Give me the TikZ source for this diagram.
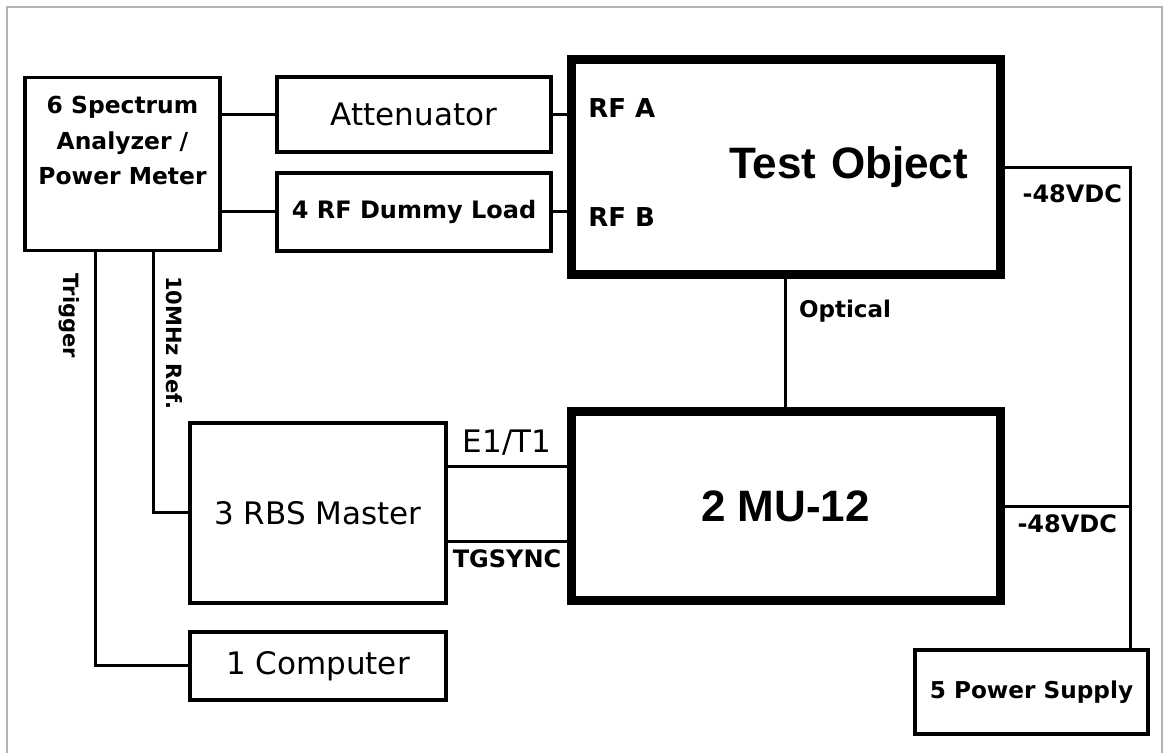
\documentclass[tikz,border=0pt]{standalone}
\usepackage{fontspec}
\setmainfont{DejaVu Sans}
\newfontfamily\arialfont{Liberation Sans}
\usetikzlibrary{positioning}

\begin{document}
\begin{tikzpicture}[
    x=0.5pt, y=-0.5pt,
    box/.style={rectangle, draw=black, line width=1.6pt, inner sep=0pt, font=\fontsize{15.5}{18}\selectfont},
    bigbox/.style={rectangle, draw=black, line width=4.5pt, inner sep=0pt, font=\arialfont\bfseries\fontsize{22}{26}\selectfont},
    lbl/.style={font=\bfseries\fontsize{12}{14}\selectfont, inner sep=0pt},
    vlbl/.style={font=\bfseries\fontsize{10.5}{12}\selectfont, inner sep=0pt, rotate=-90},
    link/.style={line width=1.5pt},
    frame/.style={draw=gray!60, line width=1.2pt}
]

\useasboundingbox (0,0) rectangle (1164,753);
\draw[frame] (7,760) |- (1162,7) -- (1162,760);

% Measurement units
\node[box, minimum width=97.5pt, minimum height=86.5pt] (sa) at (122.5,164) {};
\node[lbl, font=\bfseries\fontsize{11.7}{17.7}\selectfont, align=center, below=10pt of sa.north] (satext) {6 Spectrum\\Analyzer /\\Power Meter};
\node[box, minimum width=137pt, minimum height=37.5pt] (att) at (414,114.5) {Attenuator};
\node[box, font=\bfseries\fontsize{12}{14}\selectfont, minimum width=137pt, minimum height=39pt] (dummy) at (414,212) {4 RF Dummy Load};

% Test object and MU
\node[bigbox, minimum width=214.5pt, minimum height=107.5pt, text width=182.5pt, inner xsep=16pt, align=right] (to) at (785.5,167.5) {Test Object};
\node[bigbox, minimum width=214.5pt, minimum height=94.5pt] (mu) at (785.5,506.5) {2 MU-12};

% Other units
\node[box, minimum width=128pt, minimum height=90pt] (rbs) at (318,513) {3 RBS Master};
\node[box, minimum width=128pt, minimum height=34pt] (comp) at (318,666) {1 Computer};
\node[box, font=\bfseries\fontsize{11.6}{14}\selectfont, minimum width=116.5pt, minimum height=42pt] (ps) at (1031.5,692) {5 Power Supply};

% Port labels
\node[lbl, font=\bfseries\fontsize{13}{15}\selectfont, anchor=west] (rfa) at (588,108) {RF A};
\node[lbl, font=\bfseries\fontsize{13}{15}\selectfont, anchor=west] (rfb) at (588,217) {RF B};

% Power bus
\coordinate (bus) at (1130,0);

% Connections
\draw[link] (att.west -| sa.east) -- (att.west);
\draw[link] (dummy.west -| sa.east) -- (dummy.west);
\draw[link] (att.east) -- (att.east -| to.west);
\draw[link] (dummy.east) -- (dummy.east -| to.west);
\draw[link] (to.south) -- (mu.north) node[lbl, font=\bfseries\fontsize{11.5}{14}\selectfont, near start, right=6pt] {Optical};
\draw[link] (to.east) -| (bus |- ps.north) node[lbl, pos=0.27, below=8pt] {-48VDC};
\draw[link] (mu.east) -- (mu.east -| bus) node[lbl, midway, below=3.5pt] {-48VDC};
\draw[link] ([yshift=23pt]rbs.east) -- ([yshift=23pt]rbs.east -| mu.west) node[midway, above=5pt, inner sep=0pt, font=\fontsize{15.5}{18}\selectfont] {E1/T1};
\draw[link] ([yshift=-14.5pt]rbs.east) -- ([yshift=-14.5pt]rbs.east -| mu.west) node[lbl, midway, below=3pt] {TGSYNC};

% Reference and trigger lines
\draw[link] ([xshift=15.25pt]sa.south) |- (rbs.west);
\draw[link] ([xshift=-13.75pt]sa.south) |- (comp.west);
\node[vlbl] (reflbl) at (174,343) {10MHz Ref.};
\node[vlbl] (triglbl) at (69,316) {Trigger};

\end{tikzpicture}
\end{document}
